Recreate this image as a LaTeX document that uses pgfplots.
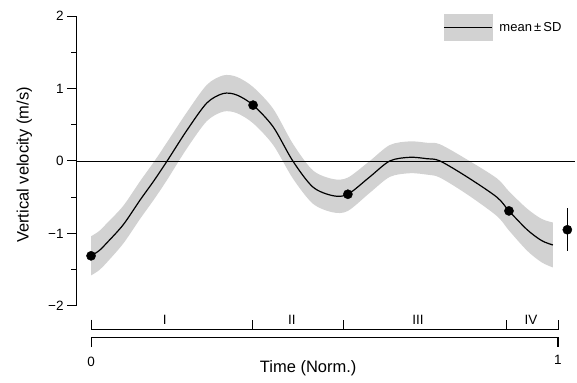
\documentclass[border=0pt]{standalone}
\usepackage{fontspec}
\setmainfont{Liberation Sans}
\usepackage{pgfplots}
\pgfplotsset{compat=1.18}
\usepackage{pgfplotstable}
\usepgfplotslibrary{fillbetween}
\pgfplotstableread{
t m s
0.000 -1.31 0.27
0.017 -1.24 0.27
0.034 -1.13 0.27
0.069 -0.88 0.26
0.105 -0.54 0.26
0.135 -0.27 0.26
0.163 0.00 0.26
0.205 0.42 0.25
0.248 0.80 0.25
0.283 0.93 0.25
0.312 0.91 0.25
0.347 0.77 0.25
0.390 0.47 0.25
0.432 0.00 0.24
0.475 -0.36 0.23
0.518 -0.48 0.23
0.550 -0.46 0.23
0.597 -0.22 0.22
0.640 0.00 0.22
0.683 0.05 0.22
0.720 0.03 0.22
0.747 0.00 0.23
0.805 -0.22 0.24
0.869 -0.50 0.26
0.895 -0.69 0.27
0.934 -0.95 0.29
0.965 -1.10 0.30
0.989 -1.16 0.31
}\meandata
\begin{document}
\begin{tikzpicture}
\begin{axis}[
  scale only axis, width=499pt, height=290pt,
  xmin=-0.032, xmax=1.036, ymin=-2, ymax=2,
  clip=false,
  hide x axis,
  axis y line*=left,
  axis line style={line width=1.1pt},
  ytick={-2,-1,0,1,2},
  yticklabels={−2,−1,0,1,2},
  minor ytick={-1.5,-0.5,0.5,1.5},
  tick align=outside,
  major tick length=9pt, minor tick length=5pt,
  every tick/.style={black, line width=1pt},
  tick label style={font=\fontsize{13.5}{15}\selectfont},
  ylabel={Vertical velocity (m/s)},
  ylabel style={at={(rel axis cs:-0.104,0.486)}, anchor=center, font=\fontsize{16.5}{18}\selectfont},
  legend style={draw=none, fill=none, at={(axis cs:0.754,1.84)}, anchor=west, inner sep=0pt,
     font=\fontsize{13}{14}\selectfont},
  legend cell align=left,
]
\addplot[name path=up, draw=none, smooth, tension=0.5, forget plot] table[x=t, y expr=\thisrow{m}+\thisrow{s}] {\meandata};
\addplot[name path=lo, draw=none, smooth, tension=0.5, forget plot] table[x=t, y expr=\thisrow{m}-\thisrow{s}] {\meandata};
\addplot[gray!35, forget plot] fill between[of=up and lo];
\draw[line width=0.8pt] (axis cs:-0.032,0) -- (axis cs:1.036,0);
\addplot[black, line width=1.2pt, smooth, tension=0.5, forget plot] table[x=t, y=m] {\meandata};
\addplot[only marks, mark=*, mark size=4.6pt, black, forget plot] coordinates {(0,-1.31) (0.347,0.77) (0.55,-0.46) (0.895,-0.69)};
\addplot[only marks, mark=*, mark size=4.6pt, black, forget plot,
  error bars/.cd, y dir=both, y explicit, error mark=none,
  error bar style={line width=1pt}] coordinates {(1.02,-0.95) +- (0,0.3)};
\addlegendimage{legend image code/.code={
  \fill[gray!35] (0pt,-13pt) rectangle (48pt,13pt);
  \draw[black, line width=1.2pt] (0pt,0pt) -- (48pt,0pt);}}
\addlegendentry{\hspace{5pt}mean\,±\,SD}
% phase bar
\draw[line width=0.9pt] (axis cs:0,-2.19) -- (axis cs:0,-2.33) -- (axis cs:1,-2.33) -- (axis cs:1,-2.19);
\draw[line width=0.9pt] (axis cs:0.345,-2.33) -- (axis cs:0.345,-2.19);
\draw[line width=0.9pt] (axis cs:0.54,-2.33) -- (axis cs:0.54,-2.19);
\draw[line width=0.9pt] (axis cs:0.889,-2.33) -- (axis cs:0.889,-2.19);
\node[font=\fontsize{13.5}{15}\selectfont] at (axis cs:0.158,-2.19) {I};
\node[font=\fontsize{13.5}{15}\selectfont] at (axis cs:0.43,-2.19) {II};
\node[font=\fontsize{13.5}{15}\selectfont] at (axis cs:0.70,-2.19) {III};
\node[font=\fontsize{13.5}{15}\selectfont] at (axis cs:0.942,-2.19) {IV};
% time axis
\draw[line width=1.1pt] (axis cs:0,-2.57) -- (axis cs:0,-2.44) -- (axis cs:1,-2.44) -- (axis cs:1,-2.57);
\node[font=\fontsize{13.5}{15}\selectfont] at (axis cs:0,-2.77) {0};
\node[font=\fontsize{13.5}{15}\selectfont] at (axis cs:1,-2.74) {1};
\node[font=\fontsize{16.5}{18}\selectfont] at (axis cs:0.465,-2.86) {Time (Norm.)};
\coordinate (BL) at (axis cs:-0.195,-3.062);
\coordinate (TR) at (axis cs:1.0407,2.221);
\end{axis}
\pgfresetboundingbox
\path (BL) rectangle (TR);
\end{tikzpicture}
\end{document}
